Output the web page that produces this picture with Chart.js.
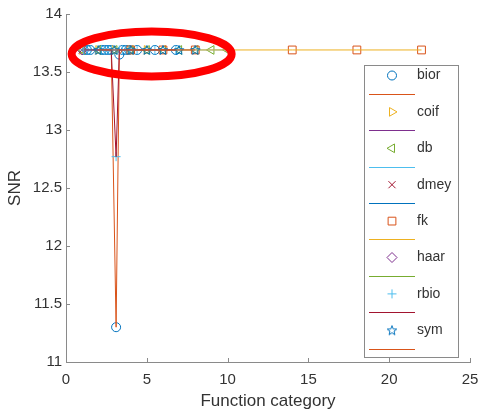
<!DOCTYPE html>
<html>
<head>
<meta charset="utf-8">
<script src="https://cdn.jsdelivr.net/npm/chart.js@4.4.1/dist/chart.umd.min.js"></script>
<style>
html, body { margin: 0; padding: 0; background: #fff; }
#wrap { width: 478px; height: 411px; }
</style>
</head>
<body>
<div id="wrap"><canvas id="snrChart" width="478" height="411"></canvas></div>
<script>
// ---- DATA ----
const familyNames = ['bior', 'coif', 'db', 'dmey', 'fk', 'haar', 'rbio', 'sym'];

const biorX = [1.1, 1.3, 1.5, 2.2, 2.4, 2.6, 2.8, 3.1, 3.3, 3.5, 3.7, 3.9, 4.4, 5.5, 6.8];
const biorY = [13.69, 13.69, 13.69, 13.69, 13.69, 13.69, 13.69, 11.3, 13.65, 13.69, 13.69, 13.69, 13.69, 13.69, 13.69];
const coifX = [1, 2, 3, 4, 5];
const coifY = [13.69, 13.69, 13.69, 13.69, 13.69];
const dbX = [1, 2, 3, 4, 5, 6, 7, 8, 9, 10];
const dbY = [13.69, 13.69, 13.69, 13.69, 13.69, 13.69, 13.69, 13.69, 13.69, 13.69];
const dmeyX = [1];
const dmeyY = [13.69];
const fkX = [4, 6, 8, 14, 18, 22];
const fkY = [13.69, 13.69, 13.69, 13.69, 13.69, 13.69];
const haarX = [1];
const haarY = [13.69];
const rbioX = [1.1, 1.3, 1.5, 2.2, 2.4, 2.6, 2.8, 3.1, 3.3, 3.5, 3.7, 3.9, 4.4, 5.5, 6.8];
const rbioY = [13.69, 13.69, 13.69, 13.69, 13.69, 13.69, 13.69, 12.77, 13.69, 13.69, 13.69, 13.69, 13.69, 13.69, 13.69];
const symX = [2, 3, 4, 5, 6, 7, 8];
const symY = [13.69, 13.69, 13.69, 13.69, 13.69, 13.69, 13.69];

const xTicks = [0, 5, 10, 15, 20, 25];
const yTicks = [11, 11.5, 12, 12.5, 13, 13.5, 14];

// MATLAB default colour order
const palette = ['#0072BD', '#D95319', '#EDB120', '#7E2F8E', '#77AC30', '#4DBEEE', '#A2142F'];

const AXIS_GRAY = '#8a8a8a';
const TEXT_COLOR = '#333333';
const FONT = "'Liberation Sans', Arial, sans-serif";

// pentagram marker for 'sym'
function makeStar(color) {
    const c = document.createElement('canvas');
    c.width = 12; c.height = 12;
    const g = c.getContext('2d');
    g.strokeStyle = color;
    g.lineWidth = 1;
    g.beginPath();
    for (let i = 0; i < 10; i++) {
        const r = i % 2 === 0 ? 5 : 2.1;
        const a = -Math.PI / 2 + i * Math.PI / 5;
        const px = 6 + r * Math.cos(a), py = 6.4 + r * Math.sin(a);
        if (i === 0) g.moveTo(px, py); else g.lineTo(px, py);
    }
    g.closePath();
    g.stroke();
    return c;
}

const families = [
    { x: biorX, y: biorY, style: 'circle', rot: 0, r: 4.5 },
    { x: coifX, y: coifY, style: 'triangle', rot: 90, r: 5 },
    { x: dbX, y: dbY, style: 'triangle', rot: -90, r: 5 },
    { x: dmeyX, y: dmeyY, style: 'crossRot', rot: 0, r: 5 },
    { x: fkX, y: fkY, style: 'rect', rot: 0, r: 5.5 },
    { x: haarX, y: haarY, style: 'rectRot', rot: 0, r: 5 },
    { x: rbioX, y: rbioY, style: 'cross', rot: 0, r: 4.5 },
    { x: symX, y: symY, style: 'star5', rot: 0, r: 5 }
];

function toPoints(xs, ys) {
    return xs.map((v, i) => ({ x: v, y: ys[i] }));
}

// each family: one marker-only series, then one line-only series (colours keep cycling)
const datasets = [];
families.forEach((f, k) => {
    const mColor = palette[(2 * k) % palette.length];
    const lColor = palette[(2 * k + 1) % palette.length];
    datasets.push({
        label: familyNames[k],
        data: toPoints(f.x, f.y),
        showLine: false,
        pointStyle: f.style === 'star5' ? makeStar(mColor) : f.style,
        rotation: f.rot,
        pointRadius: f.r,
        pointHoverRadius: f.r,
        borderColor: mColor,
        backgroundColor: 'rgba(0,0,0,0)',
        pointBorderWidth: 1,
        _legendColor: mColor
    });
    datasets.push({
        label: '',
        data: toPoints(f.x, f.y),
        showLine: true,
        pointRadius: 0,
        borderColor: lColor,
        borderWidth: 1,
        backgroundColor: lColor,
        _legendColor: lColor
    });
});
// later series drawn on top, like MATLAB
datasets.forEach((d, i) => { d.order = datasets.length - i; });

// ---- PLUGINS ----
const inwardTicks = {
    id: 'inwardTicks',
    afterDraw(chart) {
        const { ctx, chartArea, scales } = chart;
        ctx.save();
        ctx.strokeStyle = AXIS_GRAY;
        ctx.lineWidth = 1;
        ctx.beginPath();
        xTicks.forEach(v => {
            const px = Math.round(scales.x.getPixelForValue(v)) + 0.5;
            ctx.moveTo(px, chartArea.bottom);
            ctx.lineTo(px, chartArea.bottom - 4);
        });
        yTicks.forEach(v => {
            const py = Math.round(scales.y.getPixelForValue(v)) + 0.5;
            ctx.moveTo(chartArea.left, py);
            ctx.lineTo(chartArea.left + 4, py);
        });
        ctx.stroke();
        ctx.restore();
    }
};

const highlightEllipse = {
    id: 'highlightEllipse',
    afterDatasetsDraw(chart) {
        const { ctx, scales } = chart;
        const cx = scales.x.getPixelForValue(5.3);
        const cy = scales.y.getPixelForValue(13.655);
        ctx.save();
        ctx.strokeStyle = '#ff0000';
        ctx.lineWidth = 8;
        ctx.beginPath();
        ctx.ellipse(cx, cy, 80, 22.5, 0, 0, Math.PI * 2);
        ctx.stroke();
        ctx.restore();
    }
};

const boxLegend = {
    id: 'boxLegend',
    afterDraw(chart) {
        const ctx = chart.ctx;
        const left = 364, top = 65, right = 458, bottom = 357;
        ctx.save();
        ctx.fillStyle = '#fff';
        ctx.fillRect(left, top, right - left, bottom - top);
        ctx.strokeStyle = AXIS_GRAY;
        ctx.lineWidth = 1;
        ctx.strokeRect(left + 0.5, top + 0.5, right - left, bottom - top);

        chart.data.datasets.forEach((ds, i) => {
            const y = 75.5 + i * 18.2;
            if (ds.showLine) {
                ctx.strokeStyle = ds._legendColor;
                ctx.lineWidth = 1;
                ctx.beginPath();
                ctx.moveTo(369, Math.round(y) + 0.5);
                ctx.lineTo(415, Math.round(y) + 0.5);
                ctx.stroke();
            } else {
                ctx.strokeStyle = ds._legendColor;
                ctx.fillStyle = 'rgba(0,0,0,0)';
                ctx.lineWidth = 1;
                Chart.helpers.drawPoint(ctx, {
                    pointStyle: ds.pointStyle,
                    rotation: ds.rotation,
                    radius: ds.pointRadius,
                    borderWidth: 1
                }, 392, y);
                ctx.fillStyle = TEXT_COLOR;
                ctx.font = '14px ' + FONT;
                ctx.textAlign = 'left';
                ctx.textBaseline = 'middle';
                ctx.fillText(ds.label, 417, y);
            }
        });
        ctx.restore();
    }
};

// ---- CHART ----
new Chart(document.getElementById('snrChart'), {
    type: 'scatter',
    data: { datasets: datasets },
    plugins: [highlightEllipse, inwardTicks, boxLegend],
    options: {
        responsive: false,
        animation: false,
        layout: { padding: { left: 0, right: 8, top: 14, bottom: 0 } },
        plugins: {
            legend: { display: false },
            tooltip: { enabled: false }
        },
        scales: {
            x: {
                type: 'linear',
                min: 0,
                max: 25,
                afterBuildTicks: s => { s.ticks = xTicks.map(v => ({ value: v })); },
                afterFit: s => { s.height = 49; s.paddingLeft = 0; s.paddingRight = 0; },
                grid: { display: true, drawOnChartArea: false, drawTicks: false },
                border: { display: true, color: AXIS_GRAY, width: 1 },
                ticks: {
                    color: TEXT_COLOR, padding: 9, font: { family: FONT, size: 15 },
                    callback: v => String(v)
                },
                title: {
                    display: true,
                    text: 'Function category',
                    color: TEXT_COLOR,
                    padding: { top: 0, bottom: -1 },
                    font: { family: FONT, size: 17 }
                }
            },
            y: {
                type: 'linear',
                min: 11,
                max: 14,
                afterBuildTicks: s => { s.ticks = yTicks.map(v => ({ value: v })); },
                afterFit: s => { s.width = 66; s.paddingTop = 0; s.paddingBottom = 0; },
                grid: { display: true, drawOnChartArea: false, drawTicks: false },
                border: { display: true, color: AXIS_GRAY, width: 1 },
                ticks: {
                    color: TEXT_COLOR, padding: 4, font: { family: FONT, size: 15 },
                    callback: v => String(v)
                },
                title: {
                    display: true,
                    text: 'SNR',
                    color: TEXT_COLOR,
                    padding: { top: 5, bottom: 0 },
                    font: { family: FONT, size: 17 }
                }
            }
        }
    }
});
</script>
</body>
</html>
